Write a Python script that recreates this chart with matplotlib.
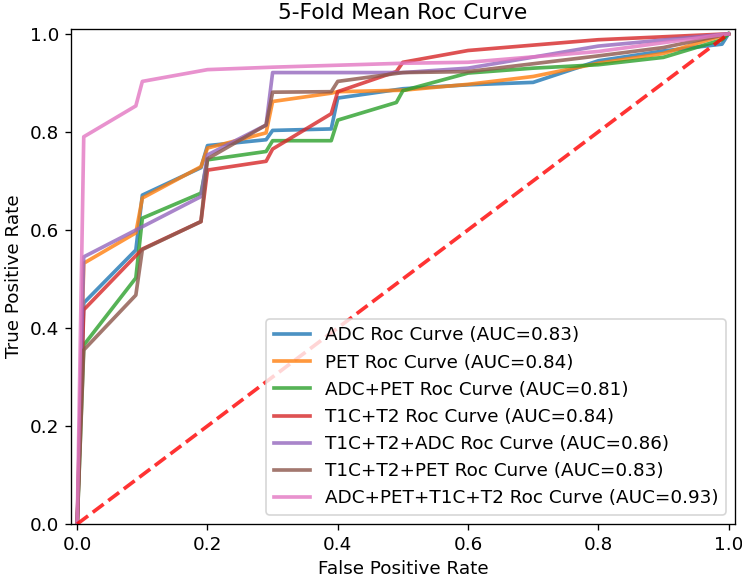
import matplotlib
matplotlib.use("Agg")
import matplotlib.pyplot as plt

# mean ROC curves (fpr, tpr per model)
adc_fpr = [0, 0.01, 0.09, 0.1, 0.19, 0.2, 0.29, 0.3, 0.39, 0.4, 0.5, 0.6, 0.7, 0.8, 0.9, 0.99, 1.0]
adc_tpr = [0, 0.451, 0.559, 0.671, 0.727, 0.772, 0.784, 0.803, 0.806, 0.869, 0.888, 0.896, 0.901, 0.945, 0.965, 0.979, 1.0]

pet_fpr = [0, 0.01, 0.09, 0.1, 0.19, 0.2, 0.29, 0.3, 0.39, 0.4, 0.5, 0.6, 0.7, 0.8, 0.9, 1.0]
pet_tpr = [0, 0.532, 0.594, 0.665, 0.729, 0.767, 0.798, 0.862, 0.879, 0.882, 0.885, 0.897, 0.913, 0.94, 0.96, 1.0]

adc_pet_fpr = [0, 0.01, 0.09, 0.1, 0.19, 0.2, 0.29, 0.3, 0.39, 0.4, 0.49, 0.5, 0.6, 0.7, 0.8, 0.9, 0.99, 1.0]
adc_pet_tpr = [0, 0.365, 0.502, 0.624, 0.675, 0.743, 0.76, 0.782, 0.782, 0.824, 0.86, 0.884, 0.92, 0.93, 0.937, 0.952, 0.988, 1.0]

t1c_t2_fpr = [0, 0.01, 0.1, 0.19, 0.2, 0.29, 0.3, 0.39, 0.4, 0.49, 0.5, 0.6, 0.7, 0.8, 0.9, 1.0]
t1c_t2_tpr = [0, 0.437, 0.561, 0.617, 0.722, 0.74, 0.765, 0.837, 0.882, 0.923, 0.942, 0.966, 0.977, 0.988, 0.994, 1.0]

t1c_t2_adc_fpr = [0, 0.01, 0.19, 0.2, 0.29, 0.3, 0.5, 0.6, 0.8, 1.0]
t1c_t2_adc_tpr = [0, 0.545, 0.668, 0.753, 0.814, 0.921, 0.921, 0.93, 0.975, 1.0]

t1c_t2_pet_fpr = [0, 0.01, 0.09, 0.1, 0.19, 0.2, 0.29, 0.3, 0.39, 0.4, 0.5, 0.6, 0.8, 0.9, 1.0]
t1c_t2_pet_tpr = [0, 0.355, 0.467, 0.56, 0.617, 0.745, 0.814, 0.881, 0.882, 0.903, 0.921, 0.923, 0.955, 0.972, 1.0]

all_fpr = [0, 0.01, 0.09, 0.1, 0.2, 0.3, 0.5, 0.6, 0.8, 1.0]
all_tpr = [0, 0.79, 0.853, 0.903, 0.927, 0.932, 0.94, 0.942, 0.964, 1.0]

names = ["ADC", "PET", "ADC+PET", "T1C+T2", "T1C+T2+ADC", "T1C+T2+PET", "ADC+PET+T1C+T2"]
aucs = [0.83, 0.84, 0.81, 0.84, 0.86, 0.83, 0.93]
curves = [
    (adc_fpr, adc_tpr),
    (pet_fpr, pet_tpr),
    (adc_pet_fpr, adc_pet_tpr),
    (t1c_t2_fpr, t1c_t2_tpr),
    (t1c_t2_adc_fpr, t1c_t2_adc_tpr),
    (t1c_t2_pet_fpr, t1c_t2_pet_tpr),
    (all_fpr, all_tpr),
]

plt.rcParams['font.size'] = 11

fig = plt.figure(figsize=(742 / 120, 579 / 120), dpi=120)
ax = fig.add_axes([0.0953, 0.095, 0.8953, 0.855])

for (fpr, tpr), name, auc in zip(curves, names, aucs):
    ax.plot(fpr, tpr, lw=2.2, alpha=0.8, label=f"{name} Roc Curve (AUC={auc:.2f})")

ax.plot([0, 1], [0, 1], linestyle="--", lw=2.2, color="r", alpha=0.8)

ax.set_xlim([-0.01, 1.01])
ax.set_ylim([0, 1.01])
ax.set_xlabel("False Positive Rate")
ax.set_ylabel("True Positive Rate")
ax.set_title("5-Fold Mean Roc Curve", fontsize=13)
ax.legend(loc="lower right")

fig.savefig("out.png", dpi=120)
